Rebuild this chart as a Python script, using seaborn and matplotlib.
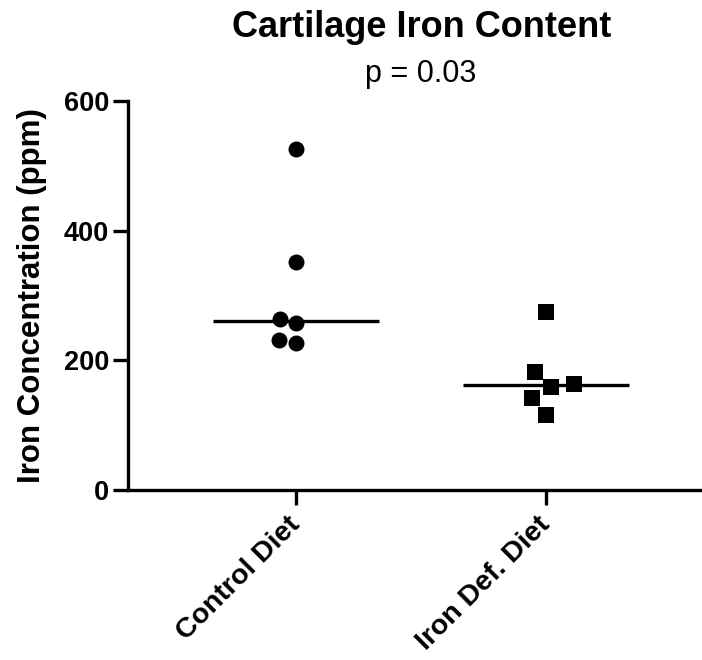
import numpy as np
import pandas as pd
import matplotlib
matplotlib.use("Agg")
import matplotlib.pyplot as plt
from matplotlib.path import Path
import seaborn as sns

# Iron concentration (ppm) measured in cartilage for each diet group
categories = ["Control Diet", "Iron Def. Diet"]
control_ppm = [526, 352, 258, 264, 227, 231]
iron_def_ppm = [274, 164, 142, 116, 182, 159]
y_ticks = [0, 200, 400, 600]

df = pd.DataFrame({
    "diet": [categories[0]] * len(control_ppm) + [categories[1]] * len(iron_def_ppm),
    "ppm": control_ppm + iron_def_ppm,
})

sns.set_style("ticks")
plt.rcParams["font.family"] = ["Liberation Sans", "DejaVu Sans"]
for key in ["text.color", "axes.labelcolor", "xtick.color", "ytick.color", "axes.edgecolor"]:
    plt.rcParams[key] = "black"

fig = plt.figure(figsize=(7.02, 6.6), dpi=100)
ax = fig.add_axes([128 / 702, 1 - 490 / 660, 1 - 128 / 702, (490 - 101) / 660])

# circles for the control group
sns.swarmplot(data=df[df["diet"] == categories[0]], x="diet", y="ppm", order=categories,
              marker="o", size=11.5, color="black", linewidth=0, ax=ax)

# squares for the iron-deficient group; swarm spacing uses a wider footprint,
# the drawn square is scaled down so neighbours don't touch at the corners
sns.swarmplot(data=df[df["diet"] == categories[1]], x="diet", y="ppm", order=categories,
              marker="s", size=15.5, color="black", linewidth=0, ax=ax)
squares = ax.collections[-1]
sq = squares.get_paths()[0]
squares.set_paths([Path(sq.vertices * 0.70, sq.codes)])

# median line for each group
sns.pointplot(data=df, x="diet", y="ppm", order=categories, estimator=np.median,
              errorbar=None, marker="_", markersize=120, markeredgewidth=2.4,
              linestyle="none", color="black", ax=ax)

ax.set_ylim(0, 600)
ax.set_xlim(-0.672, 1.624)
ax.set_yticks(y_ticks)
ax.set_yticklabels([str(v) for v in y_ticks], fontsize=19.5, fontweight="bold")
ax.set_xticks(range(len(categories)))
ax.set_xticklabels(categories, fontsize=20.5, fontweight="bold", rotation=45,
                   ha="right", va="center", rotation_mode="anchor")
ax.set_xlabel("")
ax.set_ylabel("Iron Concentration (ppm)", fontsize=22.5, fontweight="bold", labelpad=12)

for side in ["top", "right"]:
    ax.spines[side].set_visible(False)
for side in ["left", "bottom"]:
    ax.spines[side].set_linewidth(2.4)
    ax.spines[side].set_color("black")
ax.tick_params(axis="both", width=2.4, length=10.5, color="black")
ax.tick_params(axis="y", pad=3)
ax.tick_params(axis="x", pad=12)

fig.text(422 / 702, 1 - 37 / 660, "Cartilage Iron Content", fontsize=26,
         fontweight="bold", ha="center", va="baseline")
fig.text(421 / 702, 1 - 82 / 660, "p = 0.03", fontsize=22, ha="center", va="baseline")

fig.savefig("out.png", dpi=100, facecolor="white")
